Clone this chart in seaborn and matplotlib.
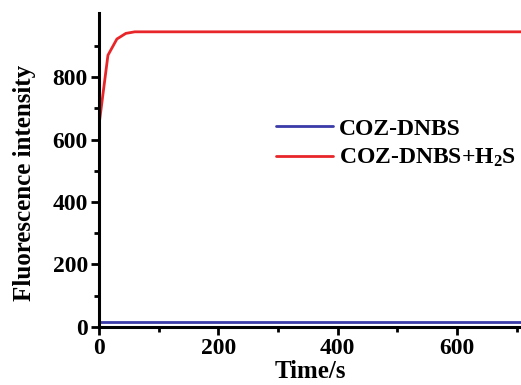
import numpy as np
import pandas as pd
import seaborn as sns
from matplotlib import pyplot as plt

# time points (s) and intensities
time_s = [0, 15, 30, 45, 60, 120, 240, 360, 480, 600, 720]
probe = [15, 15, 15, 15, 15, 15, 15, 15, 15, 15, 15]
probe_h2s = [646, 870, 922, 940, 945, 945, 945, 945, 945, 945, 945]
labels = ["COZ-DNBS", "COZ-DNBS+H$_2$S"]
colors = ["#3a3aa8", "#e8262a"]

sns.set_style("ticks")
plt.rcParams['font.family'] = ['Liberation Serif', 'DejaVu Serif']
plt.rcParams['font.weight'] = 'bold'
plt.rcParams['mathtext.fontset'] = 'custom'
plt.rcParams['mathtext.rm'] = 'Liberation Serif:bold'
plt.rcParams['mathtext.it'] = 'Liberation Serif:bold'
plt.rcParams['mathtext.bf'] = 'Liberation Serif:bold'
for k in ['text.color', 'axes.labelcolor', 'xtick.color', 'ytick.color', 'axes.edgecolor']:
    plt.rcParams[k] = 'black'

df = pd.DataFrame({
    "time": time_s * 2,
    "value": probe + probe_h2s,
    "sample": [labels[0]] * len(time_s) + [labels[1]] * len(time_s),
})

fig = plt.figure(figsize=(5.21, 3.85), dpi=100)
ax = fig.add_axes([0.19, 0.151, 0.81, 0.815])
sns.lineplot(data=df, x="time", y="value", hue="sample", palette=colors,
             linewidth=2, ax=ax)

ax.set_xlim(0, 707)
ax.set_ylim(0, 1005)
ax.set_xticks([0, 200, 400, 600])
ax.set_xticks([100, 300, 500, 700], minor=True)
ax.set_yticks([0, 200, 400, 600, 800])
ax.set_yticks([100, 300, 500, 700, 900], minor=True)
ax.tick_params(which='major', length=6, width=2, labelsize=17, pad=2)
ax.tick_params(which='minor', length=3.5, width=2)
for lab in ax.get_xticklabels() + ax.get_yticklabels():
    lab.set_fontweight('bold')
sns.despine(ax=ax)
ax.spines['left'].set_linewidth(2.2)
ax.spines['bottom'].set_linewidth(2.2)

ax.set_xlabel("Time/s", fontsize=18, fontweight='bold', labelpad=1)
ax.set_ylabel("Fluorescence intensity", fontsize=18, fontweight='bold')
ax.yaxis.set_label_coords(-0.15, 0.46)

leg = ax.legend(loc='upper left', bbox_to_anchor=(0.42, 0.665), frameon=False,
                prop={'size': 17, 'weight': 'bold'}, handlelength=2.4,
                handletextpad=0.25, labelspacing=0.3, borderaxespad=0,
                borderpad=0)

fig.savefig("out.png", dpi=100)
